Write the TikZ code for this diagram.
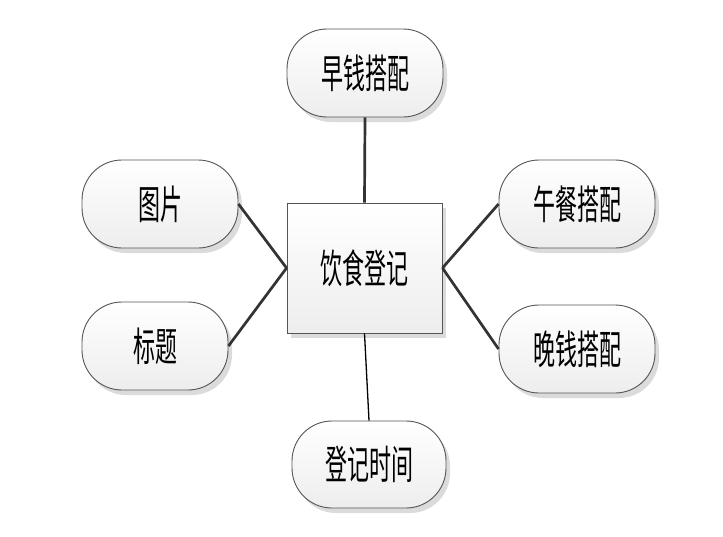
\documentclass[tikz,border=0pt]{standalone}
\usepackage{fontspec}
\newfontfamily\cjk{Noto Sans CJK SC}
\usetikzlibrary{shadows}
\definecolor{edgegray}{HTML}{555555}
\definecolor{linegray}{HTML}{333333}
\tikzset{
  box/.style={draw=edgegray, line width=0.9pt, top color=white, bottom color=black!7,
    drop shadow={shadow xshift=4pt, shadow yshift=-5pt, fill=black!14, opacity=1},
    font=\cjk\fontsize{40}{40}\selectfont, inner sep=0pt},
  pill/.style={box, rounded corners=40pt, minimum height=88pt},
  link/.style={draw=linegray, line width=2.7pt},
  thinlink/.style={draw=black, line width=1.3pt}
}
\newcommand{\sq}[1]{\scalebox{0.55}[1]{#1}}
\begin{document}
\begin{tikzpicture}[x=1pt,y=-1pt]
\useasboundingbox (0,0) rectangle (723,536);
\node[box, minimum width=155pt, minimum height=130pt] (c) at (364.5,268) {\sq{饮食登记}};
\node[pill, minimum width=156pt] (t) at (365,73) {\sq{早钱搭配}};
\node[pill, minimum width=156pt] (p) at (160,204) {\sq{图片}};
\node[pill, minimum width=146pt] (h) at (155,346) {\sq{标题}};
\node[pill, minimum width=156pt] (l) at (577,204) {\sq{午餐搭配}};
\node[pill, minimum width=156pt] (d) at (577,349) {\sq{晚钱搭配}};
\node[pill, minimum width=154pt, minimum height=87pt] (b) at (369,464.5) {\sq{登记时间}};
\draw[link] (t.south) -- (c.north);
\draw[link] (c.west) -- (p.east);
\draw[link] (c.west) -- (h.east);
\draw[link] (c.east) -- (l.west);
\draw[link] (c.east) -- (d.west);
\draw[thinlink] (c.south) -- (b.north);
\end{tikzpicture}
\end{document}
